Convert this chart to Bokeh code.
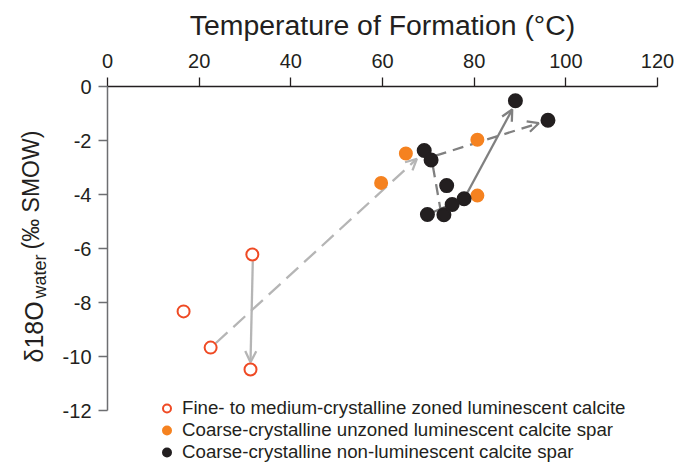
import math
from bokeh.plotting import figure
from bokeh.models import (Range1d, FixedTicker, Arrow, OpenHead, Label,
                          Legend, LegendItem, LinearAxis)
from bokeh.embed import file_html
from bokeh.resources import INLINE

# ---------------- data ----------------
fine_T = [16.6, 22.5, 31.6, 31.2]
fine_d = [-8.33, -9.67, -6.22, -10.48]

unzoned_T = [59.7, 65.1, 80.7, 80.7]
unzoned_d = [-3.57, -2.48, -1.97, -4.04]

nonlum_T = [89.0, 96.1, 69.1, 70.6, 74.0, 77.8, 75.2, 73.4, 69.8]
nonlum_d = [-0.53, -1.25, -2.37, -2.72, -3.67, -4.16, -4.37, -4.75, -4.74]

x_ticks = [0, 20, 40, 60, 80, 100, 120]
y_ticks = [0, -2, -4, -6, -8, -10, -12]

labels = ["Fine- to medium-crystalline zoned luminescent calcite",
          "Coarse-crystalline unzoned luminescent calcite spar",
          "Coarse-crystalline non-luminescent calcite spar"]

x_title = "Temperature of Formation (°C)"

# trend arrows: (T_start, d_start, T_end, d_end)
arrow_fine_solid = (31.7, -6.47, 31.2, -10.21)
arrow_fine_dashed = (23.6, -9.51, 67.5, -2.68)
arrow_spar_dashed = (71.6, -2.56, 94.1, -1.36)
arrow_spar_solid = (77.8, -4.16, 88.3, -0.85)
seg_spar_dashed = (71.0, -2.96, 72.7, -4.60)
seg_spar_solid_T = [69.8, 77.8]
seg_spar_solid_d = [-4.74, -4.16]

# ---------------- styling ----------------
FONT = "Liberation Sans"
TXT = "#231f20"
RED = "#ef4a24"
ORANGE = "#f58220"
BLACK = "#231f20"
LIGHT = "#b5b5b5"
DARK = "#808080"

W, H = 678, 463
AXIS_TOP_PX = 86            # pixel row where d18O = 0 sits
AXIS_LEFT_PX = 107          # pixel column where T = 0 sits
PX_PER_X = 550 / 120.0
PX_PER_Y = 27.0
X0 = -AXIS_LEFT_PX / PX_PER_X
X1 = X0 + W / PX_PER_X
Y1 = AXIS_TOP_PX / PX_PER_Y
Y0 = Y1 - H / PX_PER_Y
MID = 0.3465                # baseline -> middle of text box, in em

p = figure(width=W, height=H, output_backend="svg", toolbar_location=None,
           x_range=Range1d(X0, X1), y_range=Range1d(Y0, Y1),
           x_axis_location=None, y_axis_location=None,
           min_border_left=0, min_border_top=0,
           min_border_right=0, min_border_bottom=0)
p.outline_line_color = None
p.grid.visible = False
p.background_fill_color = "white"


def px2x(px):
    return X0 + px / PX_PER_X


def py2y(py):
    return Y1 - py / PX_PER_Y


# x axis (top, fixed at d18O = 0)
xa = LinearAxis(fixed_location=0, ticker=FixedTicker(ticks=x_ticks),
                bounds=(0, 120))
xa.major_label_text_font = FONT
xa.major_label_text_font_size = "20px"
xa.major_label_text_color = TXT
xa.major_label_standoff = 10
xa.axis_line_color = TXT
xa.axis_line_width = 1.3
xa.major_tick_line_color = TXT
xa.major_tick_line_width = 1.3
xa.major_tick_out = 9
xa.major_tick_in = 0
xa.minor_tick_line_color = None
p.add_layout(xa, "above")

# y axis (left, fixed at T = 0)
ya = LinearAxis(fixed_location=0, ticker=FixedTicker(ticks=y_ticks),
                bounds=(-12, 0))
ya.major_label_overrides = {t: str(t) for t in y_ticks}
ya.major_label_text_font = FONT
ya.major_label_text_font_size = "20px"
ya.major_label_text_color = TXT
ya.major_label_standoff = 7
ya.axis_line_color = "#6d6e71"
ya.axis_line_width = 1.5
ya.major_tick_line_color = "#6d6e71"
ya.major_tick_line_width = 1.3
ya.major_tick_out = 9
ya.major_tick_in = 0
ya.minor_tick_line_color = None
p.add_layout(ya, "left")

# connecting lines under markers
p.line(seg_spar_solid_T, seg_spar_solid_d, line_color=DARK, line_width=2.3)


def add_arrow(a, color, dash, head=True):
    kw = dict(x_start=a[0], y_start=a[1], x_end=a[2], y_end=a[3],
              line_color=color, line_width=2.3, line_dash=dash,
              level="underlay")
    kw["end"] = OpenHead(size=11, line_color=color, line_width=2.3) if head else None
    p.add_layout(Arrow(**kw))


add_arrow(arrow_fine_solid, LIGHT, "solid")
add_arrow(arrow_fine_dashed, LIGHT, "16 8")
add_arrow(arrow_spar_dashed, DARK, "11 7")
add_arrow(arrow_spar_solid, DARK, "solid")
add_arrow(seg_spar_dashed, DARK, "11 7", head=False)

# markers
r_fine = p.scatter(fine_T, fine_d, marker="circle", size=12, fill_color="white",
                   line_color=RED, line_width=2)
r_unz = p.scatter(unzoned_T, unzoned_d, marker="circle", size=12, fill_color=ORANGE,
                  line_color=ORANGE, line_width=2)
r_non = p.scatter(nonlum_T, nonlum_d, marker="circle", size=13, fill_color=BLACK,
                  line_color=BLACK, line_width=2)

legend = Legend(items=[LegendItem(label=labels[0], renderers=[r_fine]),
                       LegendItem(label=labels[1], renderers=[r_unz]),
                       LegendItem(label=labels[2], renderers=[r_non])],
                location=(156, 0), orientation="vertical",
                glyph_width=21, glyph_height=20, label_height=20, spacing=0,
                padding=0, margin=0, label_standoff=5,
                border_line_color=None, background_fill_alpha=0,
                label_text_font=FONT, label_text_font_size="18.7px",
                label_text_color=TXT)
p.add_layout(legend)

# x-axis title (baseline at ~34 px)
title_size = 28.4
p.add_layout(Label(x=(x_ticks[0] + x_ticks[-1]) / 2,
                   y=py2y(34.3 - MID * title_size), text=x_title,
                   text_align="center", text_baseline="middle",
                   text_font=FONT, text_font_size=f"{title_size}px",
                   text_color=TXT))

# y-axis title built from pieces (rotated); (text, baseline x, start y, size)
for txt, bx, sy, size in [("δ18O", 42, 362, 25),
                          ("water", 45.5, 298, 18),
                          ("(‰ SMOW)", 38.5, 249, 23)]:
    p.add_layout(Label(x=px2x(bx - MID * size), y=py2y(sy), text=txt,
                       angle=math.pi / 2,
                       text_align="left", text_baseline="middle",
                       text_font=FONT, text_font_size=f"{size}px",
                       text_color=TXT))

open("out.html", "w").write(file_html(p, INLINE))
